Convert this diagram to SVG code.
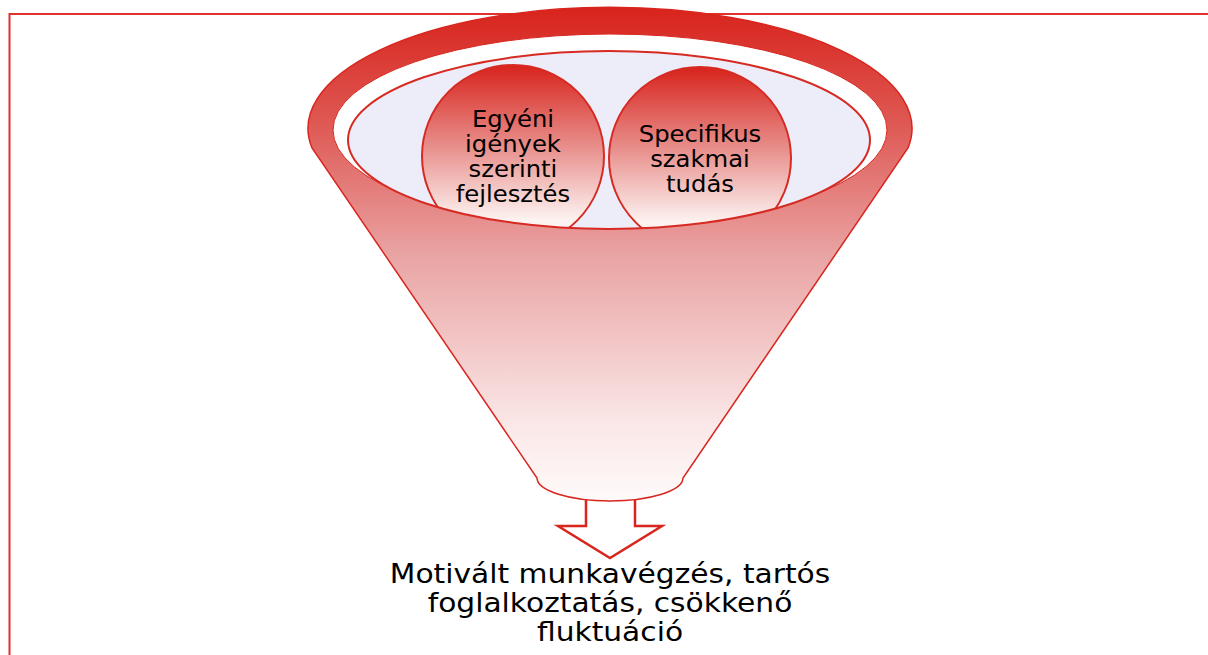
<svg xmlns="http://www.w3.org/2000/svg" width="1208" height="655" viewBox="0 0 1208 655">
  <style>
    .lbl { font-family: "DejaVu Sans", Verdana, sans-serif; fill: #000; text-anchor: middle; }
    .c { font-size: 22.5px; }
    .out { font-size: 27px; }
    .circ { stroke: #d62a22; stroke-width: 2; fill: url(#gCirc); }
  </style>
  <defs>
    <linearGradient id="gBody" x1="0" y1="7" x2="0" y2="501" gradientUnits="userSpaceOnUse">
      <stop offset="0" stop-color="#d8231c"/>
      <stop offset="0.25" stop-color="#df5c57"/>
      <stop offset="0.5" stop-color="#e9a3a3"/>
      <stop offset="0.85" stop-color="#fbe8e8"/>
      <stop offset="1" stop-color="#fffafa"/>
    </linearGradient>
    <linearGradient id="gCirc" x1="0" y1="0" x2="0" y2="1">
      <stop offset="0" stop-color="#d8231c"/>
      <stop offset="0.45" stop-color="#e88f8c"/>
      <stop offset="0.85" stop-color="#fcf2f0"/>
      <stop offset="1" stop-color="#fffafa"/>
    </linearGradient>
    <clipPath id="clipLav">
      <ellipse cx="609" cy="140" rx="261" ry="89"/>
    </clipPath>
  </defs>

  <g id="frame">
    <path d="M9.5,655 V14 H1208" fill="none" stroke="#e0312a" stroke-width="2"/>
  </g>

  <g id="connectors">
    <polygon points="586,497 586,526 558,526 610,558 662,526 635,526 635,497" fill="#fff" stroke="#d8261f" stroke-width="2.5" stroke-linejoin="miter"/>
  </g>

  <g id="funnel">
    <path d="M312,148 A302,121 0 1 1 908,148 L683,478 A73,23 0 0 1 537,478 Z" fill="url(#gBody)" stroke="#d8261f" stroke-width="1.5"/>
    <ellipse cx="610" cy="130" rx="277" ry="96" fill="#fff" stroke="#d8261f" stroke-width="1"/>
    <ellipse cx="609" cy="140" rx="261" ry="89" fill="#ededfa"/>
  </g>

  <g id="node-egyeni" clip-path="url(#clipLav)">
    <circle class="circ" cx="513" cy="156" r="91"/>
  </g>
  <g id="node-specifikus" clip-path="url(#clipLav)">
    <circle class="circ" cx="700" cy="158" r="91"/>
  </g>
  <g id="rim-edge">
    <ellipse cx="609" cy="140" rx="261" ry="89" fill="none" stroke="#d62a22" stroke-width="2"/>
  </g>

  <g id="label-egyeni" transform="translate(513,0) scale(1.08,1)">
    <text class="lbl c" x="0" y="127">Egyéni</text>
    <text class="lbl c" x="0" y="152">igények</text>
    <text class="lbl c" x="0" y="177">szerinti</text>
    <text class="lbl c" x="0" y="202">fejlesztés</text>
  </g>
  <g id="label-specifikus" transform="translate(700,0) scale(1.08,1)">
    <text class="lbl c" x="0" y="142">Specifikus</text>
    <text class="lbl c" x="0" y="167">szakmai</text>
    <text class="lbl c" x="0" y="192">tudás</text>
  </g>

  <g id="node-output" transform="translate(610,0) scale(1.1,1)">
    <text class="lbl out" x="0" y="583">Motivált munkavégzés, tartós</text>
    <text class="lbl out" x="0" y="612">foglalkoztatás, csökkenő</text>
    <text class="lbl out" x="0" y="641">fluktuáció</text>
  </g>
</svg>
